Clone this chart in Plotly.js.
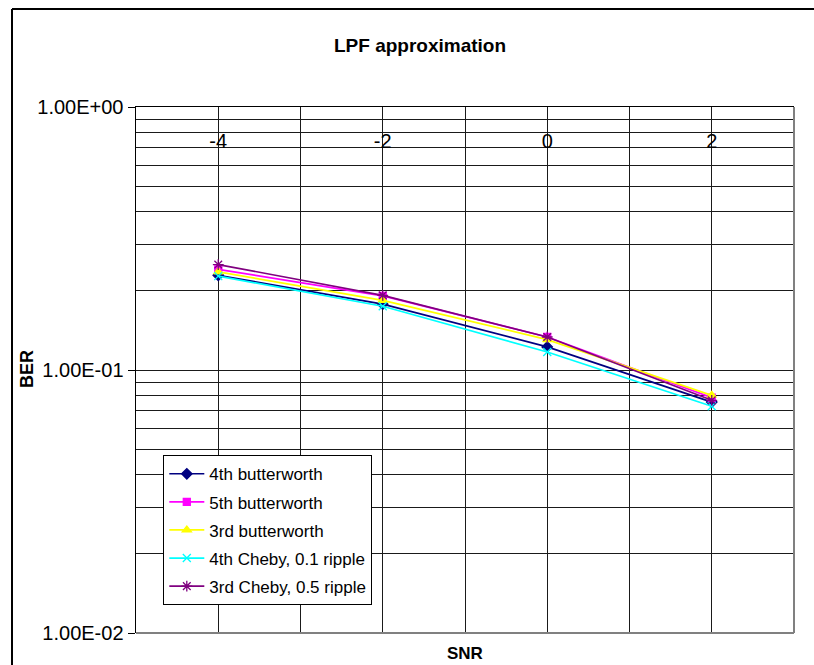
<!DOCTYPE html>
<html>
<head>
<meta charset="utf-8">
<script src="https://cdn.plot.ly/plotly-3.0.1.min.js"></script>
<style>
  html, body { margin: 0; padding: 0; background: #fff; }
  #chart { width: 814px; height: 665px; }
</style>
</head>
<body>
<div id="chart"></div>
<script>
// SNR categories (x) and BER values (y) per filter
const snr = [-4, -2, 0, 2];
const butter4 = [0.229, 0.178, 0.1224, 0.0755];
const butter5 = [0.2415, 0.1913, 0.1335, 0.0785];
const butter3 = [0.236, 0.184, 0.1305, 0.0801];
const cheby4 = [0.2275, 0.1747, 0.1171, 0.0728];
const cheby3 = [0.2517, 0.1923, 0.1335, 0.0767];

const seriesNames = ['4th butterworth', '5th butterworth', '3rd butterworth', '4th Cheby, 0.1 ripple', '3rd Cheby, 0.5 ripple'];

// x gridline positions, x tick labels
const xGridVals = [-5, -4, -3, -2, -1, 0, 1, 2, 3];
const xTickText = ['-4', '-2', '0', '2'];
// y major ticks / labels
const yTickVals = [0.01, 0.1, 1];
const yTickText = ['1.00E-02', '1.00E-01', '1.00E+00'];
const yMinorVals = [0.02, 0.03, 0.04, 0.05, 0.06, 0.07, 0.08, 0.09,
                    0.2, 0.3, 0.4, 0.5, 0.6, 0.7, 0.8, 0.9];

const FONT = 'Liberation Sans, Arial, sans-serif';

function mk(y, name, color, symbol, msize, xa) {
  return {
    x: snr, y: y, name: name, type: 'scatter', mode: 'lines+markers',
    xaxis: xa, yaxis: 'y',
    line: {color: color, width: 1.7},
    marker: {symbol: symbol, size: msize, color: color, line: {color: color, width: 1.3}},
    legendgroup: name
  };
}

const data = [
  mk(butter4, seriesNames[0], '#000080', 'diamond', 8, 'x'),
  mk(butter5, seriesNames[1], '#FF00FF', 'square', 7, 'x'),
  mk(butter3, seriesNames[2], '#FFFF00', 'triangle-up', 8, 'x'),
  mk(cheby4, seriesNames[3], '#00FFFF', 'x-thin-open', 8, 'x'),
  mk(cheby3, seriesNames[4], '#800080', 'asterisk-open', 9, 'x2')
];

const layout = {
  width: 814, height: 665,
  margin: {l: 136, r: 20, t: 107, b: 32},
  paper_bgcolor: '#fff', plot_bgcolor: '#fff',
  font: {family: FONT, color: '#000'},
  showlegend: true,
  title: {
    text: 'LPF approximation',
    font: {family: FONT, size: 19, weight: 'bold', color: '#000'},
    x: 0.516, xanchor: 'center', y: 0.932, yanchor: 'middle'
  },
  xaxis: {
    type: 'linear', range: [-5, 3], side: 'top',
    tickvals: xGridVals, showticklabels: false,
    ticks: '', showgrid: true, gridcolor: '#1a1a1a', gridwidth: 1,
    showline: true, linecolor: '#000', linewidth: 1.5,
    zeroline: false, fixedrange: true
  },
  xaxis2: {
    type: 'linear', range: [-5, 3], overlaying: 'x', anchor: 'free',
    position: (633 - 127) / 526, side: 'bottom',
    tickvals: snr, ticktext: xTickText,
    ticks: '', showgrid: false, showline: false, zeroline: false,
    tickfont: {size: 20, family: FONT, color: '#000'}, fixedrange: true
  },
  yaxis: {
    type: 'log', range: [-2, 0],
    tickvals: yTickVals, ticktext: yTickText,
    ticks: 'outside', ticklen: 7, tickcolor: '#000', tickwidth: 1,
    showgrid: true, gridcolor: '#1a1a1a', gridwidth: 1,
    minor: {tickvals: yMinorVals, showgrid: true, gridcolor: '#1a1a1a', gridwidth: 1, ticks: ''},
    showline: true, linecolor: '#000', linewidth: 1.5,
    zeroline: false, tickfont: {size: 20, family: FONT, color: '#000'},
    fixedrange: true
  },
  legend: {
    x: 0.0415, y: 0.338, xanchor: 'left', yanchor: 'top',
    bgcolor: '#fff', bordercolor: '#000', borderwidth: 1,
    font: {size: 17, family: FONT, color: '#000'},
    traceorder: 'grouped', tracegroupgap: 3,
    itemwidth: 35
  },
  annotations: [
    {text: 'BER', xref: 'paper', yref: 'paper', x: (27 - 136) / 658, y: (633 - 369) / 526,
     xanchor: 'center', yanchor: 'middle', textangle: -90, showarrow: false,
     font: {family: FONT, size: 18, weight: 'bold', color: '#000'}},
    {text: 'SNR', xref: 'paper', yref: 'paper', x: 0.5, y: (633 - 653) / 526,
     xanchor: 'center', yanchor: 'middle', showarrow: false,
     font: {family: FONT, size: 17, weight: 'bold', color: '#000'}}
  ],
  shapes: [
    {type: 'line', xref: 'paper', yref: 'paper', x0: 1, x1: 1, y0: 0, y1: 1,
     line: {color: '#808080', width: 2}, layer: 'above'},
    {type: 'line', xref: 'paper', yref: 'paper', x0: 0, x1: 1, y0: 0, y1: 0,
     line: {color: '#808080', width: 2}, layer: 'above'},
    {type: 'line', xref: 'paper', yref: 'paper', x0: (12 - 136) / 658, x1: (12 - 136) / 658,
     y0: (633 - 9) / 526, y1: (633 - 700) / 526, line: {color: '#000', width: 2}},
    {type: 'line', xref: 'paper', yref: 'paper', x0: (12 - 136) / 658, x1: (840 - 136) / 658,
     y0: (633 - 9) / 526, y1: (633 - 9) / 526, line: {color: '#000', width: 2}}
  ]
};

Plotly.newPlot('chart', data, layout, {displayModeBar: false, staticPlot: true});
</script>
</body>
</html>
